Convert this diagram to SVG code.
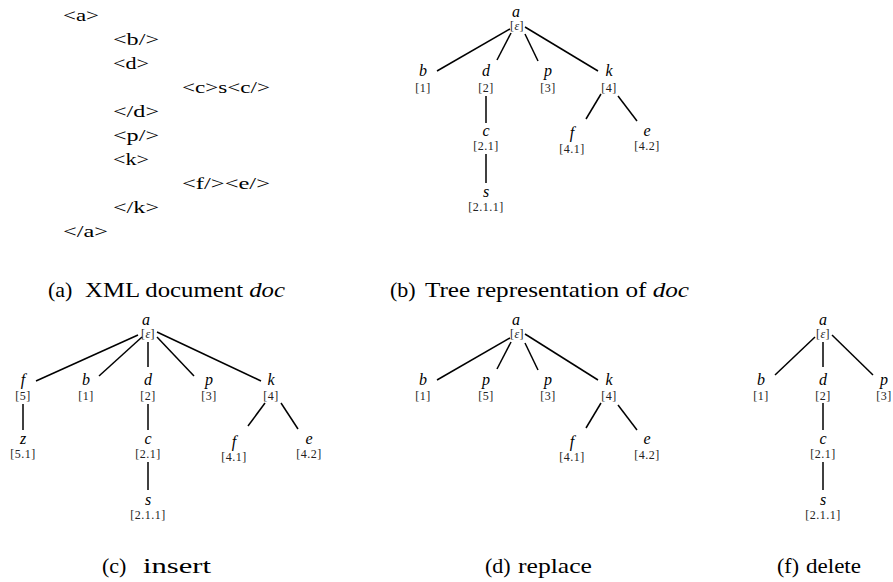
<svg xmlns="http://www.w3.org/2000/svg" width="893" height="582" viewBox="0 0 893 582">
<style>
text{font-family:"Liberation Serif","Times New Roman",serif;fill:#000}
.l{font-style:italic;font-size:16px;text-anchor:middle}
.i{font-size:12px;text-anchor:middle;letter-spacing:0.5px;fill:#222}
.x{font-size:17px}
.c{font-size:22px}
.it{font-style:italic}
.e line{stroke:#000;stroke-width:1.5}
</style>
<rect width="893" height="582" fill="#fff"/>

<!-- (a) XML document -->
<g id="xml">
<text class="x" x="63" y="20.5" textLength="36" lengthAdjust="spacingAndGlyphs">&lt;a&gt;</text>
<text class="x" x="113" y="44.6" textLength="46" lengthAdjust="spacingAndGlyphs">&lt;b/&gt;</text>
<text class="x" x="113" y="68.7" textLength="36" lengthAdjust="spacingAndGlyphs">&lt;d&gt;</text>
<text class="x" x="182" y="92.8" textLength="88" lengthAdjust="spacingAndGlyphs">&lt;c&gt;s&lt;c/&gt;</text>
<text class="x" x="113" y="116.9" textLength="46" lengthAdjust="spacingAndGlyphs">&lt;/d&gt;</text>
<text class="x" x="113" y="141" textLength="46" lengthAdjust="spacingAndGlyphs">&lt;p/&gt;</text>
<text class="x" x="113" y="165" textLength="36" lengthAdjust="spacingAndGlyphs">&lt;k&gt;</text>
<text class="x" x="182" y="189" textLength="88" lengthAdjust="spacingAndGlyphs">&lt;f/&gt;&lt;e/&gt;</text>
<text class="x" x="113" y="213" textLength="46" lengthAdjust="spacingAndGlyphs">&lt;/k&gt;</text>
<text class="x" x="63" y="237.4" textLength="45" lengthAdjust="spacingAndGlyphs">&lt;/a&gt;</text>
</g>

<!-- captions -->
<g id="captions">
<text class="c" x="48" y="297">(a)</text>
<text class="c" x="285" y="297" text-anchor="end" textLength="200" lengthAdjust="spacingAndGlyphs">XML document <tspan class="it">doc</tspan></text>
<text class="c" x="390" y="297">(b)</text>
<text class="c" x="689" y="297" text-anchor="end" textLength="264" lengthAdjust="spacingAndGlyphs">Tree representation of <tspan class="it">doc</tspan></text>
<text class="c" x="102" y="573">(c)</text>
<text class="c" x="211" y="573" text-anchor="end" textLength="68" lengthAdjust="spacingAndGlyphs">insert</text>
<text class="c" x="485" y="573">(d)</text>
<text class="c" x="592" y="573" text-anchor="end" textLength="74" lengthAdjust="spacingAndGlyphs">replace</text>
<text class="c" x="777" y="573">(f)</text>
<text class="c" x="861" y="573" text-anchor="end" textLength="55" lengthAdjust="spacingAndGlyphs">delete</text>
</g>

<!-- connectors -->
<g id="connectors" class="e">
<line x1="510" y1="29" x2="437" y2="71"/>
<line x1="511" y1="33" x2="497" y2="60"/>
<line x1="525" y1="34" x2="538" y2="61"/>
<line x1="525" y1="27" x2="598" y2="71"/>
<line x1="486" y1="96" x2="486" y2="123"/>
<line x1="486" y1="154" x2="486" y2="183"/>
<line x1="601" y1="94" x2="586" y2="119"/>
<line x1="618" y1="96" x2="637" y2="121"/>
<line x1="138" y1="335" x2="36" y2="381"/>
<line x1="142" y1="337" x2="99" y2="376"/>
<line x1="148" y1="342" x2="148" y2="367"/>
<line x1="157" y1="337" x2="194" y2="376"/>
<line x1="157" y1="332" x2="261" y2="381"/>
<line x1="23" y1="404" x2="23" y2="430"/>
<line x1="148" y1="404" x2="148" y2="430"/>
<line x1="148" y1="462" x2="148" y2="490"/>
<line x1="265" y1="403" x2="248" y2="426"/>
<line x1="281" y1="403" x2="298" y2="429"/>
<line x1="510" y1="338" x2="437" y2="380"/>
<line x1="511" y1="342" x2="497" y2="369"/>
<line x1="525" y1="343" x2="538" y2="370"/>
<line x1="525" y1="334" x2="598" y2="380"/>
<line x1="601" y1="403" x2="586" y2="428"/>
<line x1="618" y1="405" x2="637" y2="430"/>
<line x1="815" y1="337" x2="775" y2="375"/>
<line x1="823" y1="342" x2="823" y2="367"/>
<line x1="832" y1="335" x2="873" y2="375"/>
<line x1="823" y1="403" x2="823" y2="430"/>
<line x1="823" y1="462" x2="823" y2="490"/>
</g>

<!-- (b) tree nodes -->
<g id="b-a"><text class="l" x="516" y="17">a</text><text class="i" x="517" y="30">[<tspan class="it">ε</tspan>]</text></g>
<g id="b-b"><text class="l" x="423" y="76">b</text><text class="i" x="423" y="92">[1]</text></g>
<g id="b-d"><text class="l" x="486" y="76">d</text><text class="i" x="486" y="92">[2]</text></g>
<g id="b-p"><text class="l" x="548" y="76">p</text><text class="i" x="548" y="92">[3]</text></g>
<g id="b-k"><text class="l" x="609" y="76">k</text><text class="i" x="609" y="92">[4]</text></g>
<g id="b-c"><text class="l" x="486" y="136">c</text><text class="i" x="486" y="150">[2.1]</text></g>
<g id="b-s"><text class="l" x="486" y="197">s</text><text class="i" x="486" y="211">[2.1.1]</text></g>
<g id="b-f"><text class="l" x="572" y="138">f</text><text class="i" x="572" y="153">[4.1]</text></g>
<g id="b-e"><text class="l" x="647" y="136">e</text><text class="i" x="647" y="150">[4.2]</text></g>

<!-- (c) tree nodes -->
<g id="c-a"><text class="l" x="146" y="325">a</text><text class="i" x="148" y="338">[<tspan class="it">ε</tspan>]</text></g>
<g id="c-f"><text class="l" x="23" y="385">f</text><text class="i" x="23" y="400">[5]</text></g>
<g id="c-b"><text class="l" x="86" y="385">b</text><text class="i" x="86" y="400">[1]</text></g>
<g id="c-d"><text class="l" x="148" y="385">d</text><text class="i" x="148" y="400">[2]</text></g>
<g id="c-p"><text class="l" x="209" y="385">p</text><text class="i" x="209" y="400">[3]</text></g>
<g id="c-k"><text class="l" x="271" y="385">k</text><text class="i" x="271" y="400">[4]</text></g>
<g id="c-z"><text class="l" x="23" y="444">z</text><text class="i" x="23" y="458">[5.1]</text></g>
<g id="c-c"><text class="l" x="148" y="444">c</text><text class="i" x="148" y="458">[2.1]</text></g>
<g id="c-s"><text class="l" x="148" y="505">s</text><text class="i" x="148" y="519">[2.1.1]</text></g>
<g id="c-f2"><text class="l" x="234" y="447">f</text><text class="i" x="234" y="461">[4.1]</text></g>
<g id="c-e"><text class="l" x="309" y="444">e</text><text class="i" x="309" y="458">[4.2]</text></g>

<!-- (d) tree nodes -->
<g id="d-a"><text class="l" x="516" y="325">a</text><text class="i" x="517" y="338">[<tspan class="it">ε</tspan>]</text></g>
<g id="d-b"><text class="l" x="423" y="385">b</text><text class="i" x="423" y="400">[1]</text></g>
<g id="d-p5"><text class="l" x="486" y="385">p</text><text class="i" x="486" y="400">[5]</text></g>
<g id="d-p3"><text class="l" x="548" y="385">p</text><text class="i" x="548" y="400">[3]</text></g>
<g id="d-k"><text class="l" x="609" y="385">k</text><text class="i" x="609" y="400">[4]</text></g>
<g id="d-f"><text class="l" x="572" y="447">f</text><text class="i" x="572" y="461">[4.1]</text></g>
<g id="d-e"><text class="l" x="647" y="444">e</text><text class="i" x="647" y="459">[4.2]</text></g>

<!-- (f) tree nodes -->
<g id="f-a"><text class="l" x="823" y="325">a</text><text class="i" x="823" y="338">[<tspan class="it">ε</tspan>]</text></g>
<g id="f-b"><text class="l" x="761" y="385">b</text><text class="i" x="761" y="400">[1]</text></g>
<g id="f-d"><text class="l" x="823" y="385">d</text><text class="i" x="823" y="400">[2]</text></g>
<g id="f-p"><text class="l" x="884" y="385">p</text><text class="i" x="884" y="400">[3]</text></g>
<g id="f-c"><text class="l" x="823" y="444">c</text><text class="i" x="823" y="458">[2.1]</text></g>
<g id="f-s"><text class="l" x="823" y="505">s</text><text class="i" x="823" y="519">[2.1.1]</text></g>
</svg>
